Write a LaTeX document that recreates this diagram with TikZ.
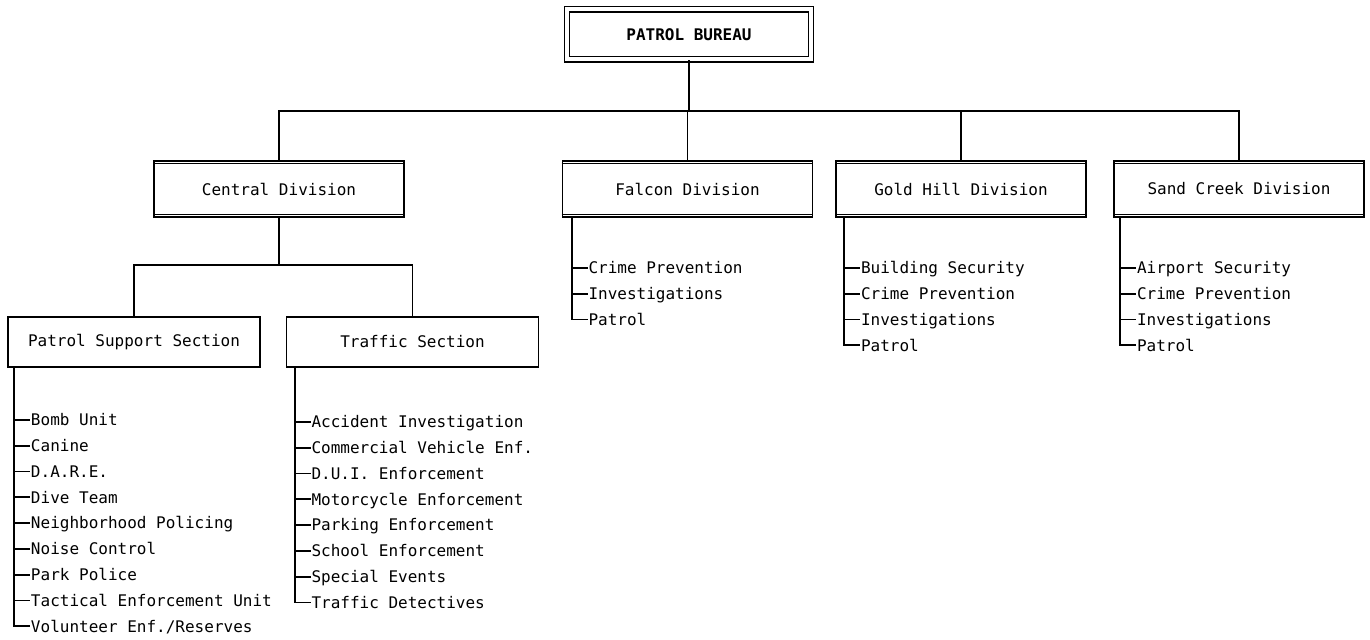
\documentclass[tikz,border=0pt]{standalone}
\usepackage{fontspec}
\setmonofont{DejaVu Sans Mono}
\usetikzlibrary{positioning, calc}

\begin{document}
\begin{tikzpicture}[
    x=0.5pt, y=-0.5pt,
    line width=0.9pt,
    bureau/.style={rectangle, draw, double, double distance=2pt, line width=0.7pt, minimum width=122pt, minimum height=25pt, align=center, font=\ttfamily\bfseries\fontsize{8}{10}\selectfont},
    division/.style={rectangle, draw, minimum width=125pt, minimum height=28pt, align=center, font=\ttfamily\fontsize{8}{10}\selectfont},
    section/.style={rectangle, draw, minimum width=126pt, minimum height=25pt, align=center, font=\ttfamily\fontsize{8}{10}\selectfont},
    item/.style={anchor=west, inner sep=0pt, text height=6pt, text depth=0.2pt, font=\ttfamily\fontsize{8}{10}\selectfont},
    link/.style={line width=0.9pt}
]
\useasboundingbox (0,0) rectangle (1370,640);

% Bureau
\node[bureau] (bureau) at (689,34.5) {PATROL BUREAU};

% Divisions
\node[division] (central) at (279,189) {Central Division};
\node[division] (falcon) at (687.5,189) {Falcon Division};
\node[division] (goldhill) at (961,189) {Gold Hill Division};
\node[division] (sandcreek) at (1239,189) {Sand Creek Division};

\foreach \d in {central, falcon, goldhill, sandcreek} {
  \draw[line width=0.6pt] ([yshift=-1.8pt]\d.north west) -- ([yshift=-1.8pt]\d.north east);
  \draw[line width=0.6pt] ([yshift=1.8pt]\d.south west) -- ([yshift=1.8pt]\d.south east);
}

\coordinate (divbar) at (689,111);
\draw[link] (bureau) -- (divbar);
\draw[link] (central.north) |- (sandcreek.north |- divbar) -- (sandcreek.north);
\draw[link] (falcon.north |- divbar) -- (falcon.north);
\draw[link] (goldhill.north |- divbar) -- (goldhill.north);

% Sections
\node[section] (support) at (134,342) {Patrol Support Section};
\node[section] (traffic) at (412.5,342) {Traffic Section};

\coordinate (secbar) at (279,265);
\draw[link] (central) -- (secbar);
\draw[link] (support.north) |- (traffic.north |- secbar) -- (traffic.north);

% Units under each box
\coordinate (supportcol) at ([xshift=3.5pt]support.south west);
\coordinate (trafficcol) at ([xshift=4.5pt]traffic.south west);
\coordinate (falconcol) at ([xshift=5pt]falcon.south west);
\coordinate (goldhillcol) at ([xshift=4.5pt]goldhill.south west);
\coordinate (sandcreekcol) at ([xshift=3.5pt]sandcreek.south west);

\foreach \t [count=\i] in {Bomb Unit, Canine, D.A.R.E., Dive Team, Neighborhood Policing, Noise Control, Park Police, Tactical Enforcement Unit, Volunteer Enf./Reserves} {
  \node[item] (support\i) at ($(supportcol)+(16,{52+25.8*(\i-1)})$) {\t};
  \draw[link] (supportcol |- support\i.west) -- (support\i.west);
}
\draw[link] (supportcol) |- (support9.west);

\foreach \t [count=\i] in {Accident Investigation, Commercial Vehicle Enf., D.U.I. Enforcement, Motorcycle Enforcement, Parking Enforcement, School Enforcement, Special Events, Traffic Detectives} {
  \node[item] (traffic\i) at ($(trafficcol)+(16,{54+25.8*(\i-1)})$) {\t};
  \draw[link] (trafficcol |- traffic\i.west) -- (traffic\i.west);
}
\draw[link] (trafficcol) |- (traffic8.west);

\foreach \t [count=\i] in {Crime Prevention, Investigations, Patrol} {
  \node[item] (falcon\i) at ($(falconcol)+(16,{50+25.8*(\i-1)})$) {\t};
  \draw[link] (falconcol |- falcon\i.west) -- (falcon\i.west);
}
\draw[link] (falconcol) |- (falcon3.west);

\foreach \t [count=\i] in {Building Security, Crime Prevention, Investigations, Patrol} {
  \node[item] (goldhill\i) at ($(goldhillcol)+(16,{50+25.8*(\i-1)})$) {\t};
  \draw[link] (goldhillcol |- goldhill\i.west) -- (goldhill\i.west);
}
\draw[link] (goldhillcol) |- (goldhill4.west);

\foreach \t [count=\i] in {Airport Security, Crime Prevention, Investigations, Patrol} {
  \node[item] (sandcreek\i) at ($(sandcreekcol)+(16,{50+25.8*(\i-1)})$) {\t};
  \draw[link] (sandcreekcol |- sandcreek\i.west) -- (sandcreek\i.west);
}
\draw[link] (sandcreekcol) |- (sandcreek4.west);

\end{tikzpicture}
\end{document}
